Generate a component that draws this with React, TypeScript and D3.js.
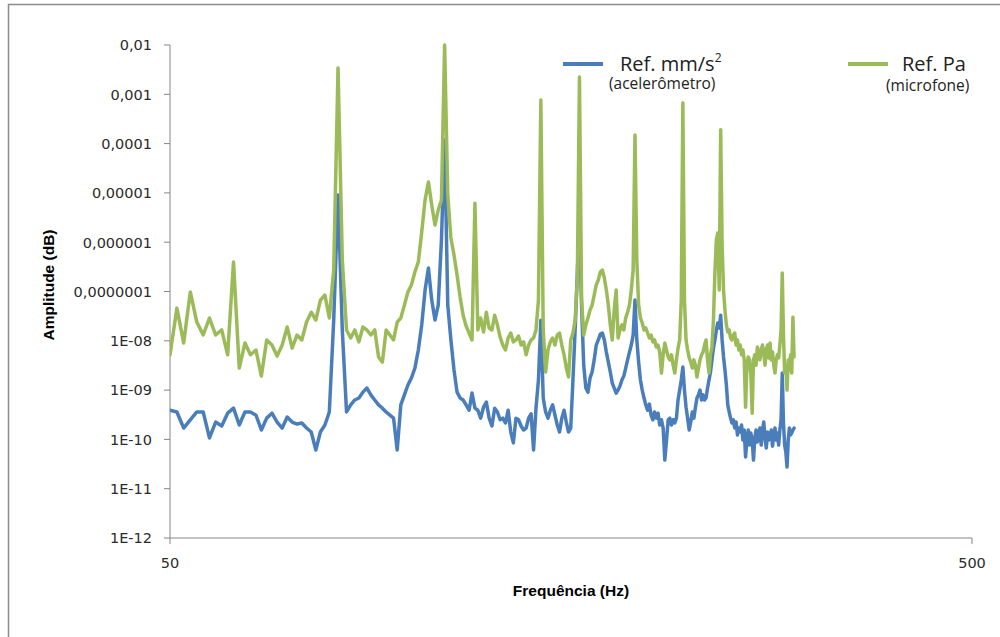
import React from 'react';
import * as d3 from 'd3';

// Frequency grid of the spectra (Hz): first bin and bin width
const FREQ_START = 50;
const FREQ_STEP = 1;

// Ref. mm/s² (acelerômetro), one value per 1 Hz bin from 50 Hz to 300 Hz
const accelValues: number[] = [
  3.9e-10, 3.6e-10, 1.7e-10, 2.5e-10, 3.6e-10, 3.6e-10, 1.07e-10, 2.25e-10, 1.87e-10, 3.4e-10,
  4.3e-10, 1.96e-10, 3.6e-10, 3.6e-10, 3.1e-10, 1.55e-10, 2.7e-10, 3.4e-10, 2.25e-10, 1.7e-10,
  2.85e-10, 2.25e-10, 2.05e-10, 2.15e-10, 1.7e-10, 1.41e-10, 6.1e-11, 1.41e-10, 1.96e-10, 3.6e-10,
  2.6e-8, 9.1e-6, 1.66e-8, 3.6e-10, 5.0e-10, 6.3e-10, 6.9e-10, 9.1e-10, 1.1e-9, 8.0e-10,
  6.3e-10, 5.0e-10, 4.3e-10, 3.6e-10, 3.1e-10, 2.7e-10, 6.1e-11, 5.0e-10, 8.0e-10, 1.27e-9,
  1.76e-9, 2.8e-9, 6.5e-9, 2.1e-8, 1.07e-7, 3.0e-7, 6.7e-8, 2.64e-8, 5.3e-8, 1.11e-6,
  1.18e-4, 5.3e-8, 1.04e-8, 2.56e-9, 9.1e-10, 6.9e-10, 6.3e-10, 5.0e-10, 3.9e-10, 8.7e-10,
  4.3e-10, 3.9e-10, 2.7e-10, 4.5e-10, 5.7e-10, 2.7e-10, 1.87e-10, 4.3e-10, 3.6e-10, 2.5e-10,
  2.7e-10, 2.15e-10, 3.9e-10, 1.41e-10, 8.5e-11, 2.7e-10, 2.5e-10, 1.87e-10, 1.55e-10, 1.7e-10,
  2.7e-10, 3.3e-10, 6.1e-11, 4.3e-10, 1.6e-9, 2.6e-8, 6.9e-10, 3.6e-10, 2.7e-10, 3.9e-10,
  5.0e-10, 3.1e-10, 1.96e-10, 1.41e-10, 2.7e-10, 3.9e-10, 2.25e-10, 1.41e-10, 1.7e-10, 1.6e-9,
  1.66e-8, 2.37e-7, 2.45e-6, 4.85e-8, 3.2e-9, 1.1e-9, 9.1e-10, 1.76e-9, 2.33e-9, 4.1e-9,
  8.2e-9, 1.04e-8, 1.37e-8, 1.44e-8, 1.04e-8, 5.9e-9, 3.7e-9, 2.33e-9, 1.39e-9, 1.1e-9,
  8.7e-10, 1.0e-9, 1.21e-9, 1.6e-9, 1.93e-9, 2.8e-9, 4.1e-9, 5.9e-9, 8.2e-9, 1.31e-8,
  6.7e-8, 1.04e-8, 3.7e-9, 1.6e-9, 1.0e-9, 6.9e-10, 5.0e-10, 3.9e-10, 5.2e-10, 3.1e-10,
  2.5e-10, 3.6e-10, 2.7e-10, 3.4e-10, 1.96e-10, 2.5e-10, 1.7e-10, 3.8e-11, 9.7e-11, 2.5e-10,
  2.7e-10, 1.96e-10, 2.5e-10, 2.15e-10, 2.7e-10, 6.3e-10, 1.0e-9, 1.6e-9, 2.94e-9, 1.0e-9,
  4.5e-10, 2.7e-10, 1.55e-10, 2.25e-10, 3.6e-10, 2.7e-10, 4.5e-10, 6.9e-10, 8.0e-10, 1.0e-9,
  6.3e-10, 8.0e-10, 6.3e-10, 6.9e-10, 1.1e-9, 1.6e-9, 2.33e-9, 4.1e-9, 7.1e-9, 1.04e-8,
  1.66e-8, 2.3e-8, 1.82e-8, 3.3e-8, 1.04e-8, 4.7e-9, 2.56e-9, 1.27e-9, 5.0e-10, 3.6e-10,
  2.7e-10, 2.15e-10, 2.5e-10, 1.7e-10, 2.25e-10, 1.23e-10, 1.7e-10, 1.41e-10, 1.96e-10, 9.7e-11,
  1.55e-10, 4.4e-11, 9.7e-11, 1.55e-10, 7.7e-11, 1.35e-10, 9.7e-11, 3.8e-11, 1.07e-10, 1.55e-10,
  8.9e-11, 1.23e-10, 1.7e-10, 7.7e-11, 1.55e-10, 2.25e-10, 1.07e-10, 6.7e-11, 1.41e-10, 9.7e-11,
  1.07e-10, 1.55e-10, 7.3e-11, 1.23e-10, 1.7e-10, 9.7e-11, 1.35e-10, 7.7e-11, 1.55e-10, 2.5e-10,
  2.22e-9, 2.15e-10, 7.7e-11, 5.5e-11, 2.75e-11, 9.7e-11, 1.7e-10, 1.23e-10, 1.35e-10, 1.55e-10,
  1.7e-10,
];

// Ref. Pa (microfone), one value per 1 Hz bin from 50 Hz to 300 Hz
const micValues: number[] = [
  5.2e-9, 4.6e-8, 9.0e-9, 9.8e-8, 2.4e-8, 1.31e-8, 2.9e-8, 1.31e-8, 1.66e-8, 5.2e-9,
  3.96e-7, 2.8e-9, 9.0e-9, 5.2e-9, 6.5e-9, 1.93e-9, 1.04e-8, 8.2e-9, 4.9e-9, 8.2e-9,
  1.9e-8, 7.1e-9, 1.31e-8, 1.04e-8, 2.4e-8, 3.8e-8, 2.64e-8, 6.7e-8, 8.5e-8, 2.9e-8,
  2.73e-7, 3.4e-3, 4.35e-7, 1.66e-8, 1.14e-8, 1.66e-8, 9.5e-9, 1.9e-8, 1.66e-8, 1.31e-8,
  1.66e-8, 4.7e-9, 3.7e-9, 1.66e-8, 1.31e-8, 1.04e-8, 2.4e-8, 2.9e-8, 5.3e-8, 9.8e-8,
  1.36e-7, 2.49e-7, 3.96e-7, 1.61e-6, 7.2e-6, 1.66e-5, 5.7e-6, 2.23e-6, 4.5e-6, 7.2e-6,
  1.0e-2, 9.1e-6, 1.22e-6, 5.5e-7, 2.16e-7, 7.7e-8, 3.3e-8, 2.0e-8, 1.44e-8, 1.04e-8,
  6.2e-6, 1.66e-8, 2.9e-8, 1.51e-8, 3.8e-8, 1.82e-8, 1.66e-8, 3.3e-8, 2.1e-8, 1.19e-8,
  8.2e-9, 6.5e-9, 1.14e-8, 1.44e-8, 9.5e-9, 1.04e-8, 1.25e-8, 8.2e-9, 9.5e-9, 5.2e-9,
  8.2e-9, 1.04e-8, 1.14e-8, 1.66e-8, 6.7e-8, 7.7e-4, 1.66e-8, 2.33e-9, 6.5e-9, 9.5e-9,
  1.14e-8, 8.2e-9, 1.31e-8, 1.44e-8, 8.2e-9, 5.2e-9, 2.8e-9, 1.85e-9, 1.04e-8, 1.44e-8,
  2.64e-8, 1.71e-7, 2.24e-3, 6.7e-8, 1.31e-8, 2.1e-8, 2.9e-8, 4.2e-8, 5.3e-8, 8.5e-8,
  1.36e-7, 1.71e-7, 2.49e-7, 2.73e-7, 1.88e-7, 1.07e-7, 5.3e-8, 2.1e-8, 1.04e-8, 4.2e-8,
  1.07e-7, 1.14e-8, 1.66e-8, 2.1e-8, 1.66e-8, 2.9e-8, 3.8e-8, 5.3e-8, 1.07e-7, 2.73e-7,
  1.5e-4, 4.35e-7, 5.3e-8, 2.9e-8, 2.3e-8, 1.66e-8, 1.82e-8, 1.44e-8, 1.14e-8, 1.31e-8,
  9.5e-9, 1.04e-8, 7.5e-9, 8.2e-9, 5.9e-9, 2.22e-9, 5.2e-9, 9.0e-9, 6.5e-9, 4.7e-9,
  4.1e-9, 5.2e-9, 3.2e-9, 2.22e-9, 4.1e-9, 7.1e-9, 1.04e-8, 6.7e-8, 6.7e-4, 6.7e-8,
  1.04e-8, 6.5e-9, 4.5e-9, 3.7e-9, 2.8e-9, 4.1e-9, 3.2e-9, 1.85e-9, 2.8e-9, 4.1e-9,
  5.2e-9, 5.9e-9, 8.2e-9, 1.04e-8, 4.1e-9, 2.22e-9, 5.2e-9, 7.5e-9, 2.64e-8, 2.37e-7,
  1.11e-6, 1.54e-6, 1.07e-7, 1.9e-4, 8.8e-7, 1.07e-7, 4.2e-8, 2.1e-8, 1.51e-8, 1.66e-8,
  1.14e-8, 1.04e-8, 1.31e-8, 1.44e-8, 8.2e-9, 1.04e-8, 6.5e-9, 8.2e-9, 5.2e-9, 6.5e-9,
  4.1e-9, 4.5e-10, 3.2e-9, 4.7e-9, 4.1e-9, 2.0e-9, 3.4e-10, 4.1e-9, 5.2e-9, 3.2e-9,
  7.5e-9, 5.9e-9, 4.1e-9, 6.5e-9, 8.2e-9, 5.7e-9, 3.2e-9, 6.5e-9, 8.2e-9, 4.5e-9,
  9.0e-9, 4.1e-9, 5.9e-9, 3.2e-9, 2.22e-9, 4.1e-9, 5.2e-9, 4.5e-9, 8.2e-9, 1.66e-8,
  2.37e-7, 1.31e-8, 2.22e-9, 3.2e-9, 1.0e-9, 4.1e-9, 2.56e-9, 5.2e-9, 2.22e-9, 3.0e-8,
  4.7e-9,
];

const yTickValues = [1e-2, 1e-3, 1e-4, 1e-5, 1e-6, 1e-7, 1e-8, 1e-9, 1e-10, 1e-11, 1e-12];
const yTickLabels = ['0,01', '0,001', '0,0001', '0,00001', '0,000001', '0,0000001', '1E-08', '1E-09', '1E-10', '1E-11', '1E-12'];
const xTickValues = [50, 500];
const xTickLabels = ['50', '500'];

const seriesNames = ['Ref. mm/s', 'Ref. Pa'];
const seriesSubNames = ['(acelerômetro)', '(microfone)'];
const seriesColors = ['#4a7ebb', '#9bbb59'];

const X_DOMAIN: [number, number] = [50, 500];
const Y_DOMAIN: [number, number] = [1e-12, 1e-2];

export default function App() {
  const W = 1000;
  const H = 637;
  const left = 170, right = 972, top = 45, bottom = 538;
  const x = d3.scaleLog().domain(X_DOMAIN).range([left, right]);
  const y = d3.scaleLog().domain(Y_DOMAIN).range([bottom, top]);
  const line = d3
    .line<number>()
    .x((_, i) => x(FREQ_START + i * FREQ_STEP))
    .y((d) => y(d));

  const axisColor = '#868686';
  const textColor = '#2b2b2b';
  const tickFont = '"DejaVu Sans", sans-serif';
  const titleFont = '"Liberation Sans", Arial, sans-serif';
  const legendFont = '"Open Sans", sans-serif';

  return (
    <svg
      width={W}
      height={H}
      viewBox={`0 0 ${W} ${H}`}
      style={{ position: 'absolute', left: 0, top: 0, background: '#fff' }}
    >
      <rect x={0} y={0} width={W} height={H} fill="#fff" />
      <rect x={8.5} y={4.5} width={1100} height={800} fill="none" stroke="#8c8c8c" strokeWidth={1.5} />

      <defs>
        <clipPath id="plotClip">
          <rect x={left} y={top - 2} width={right - left} height={bottom - top + 2} />
        </clipPath>
      </defs>

      {/* axes */}
      <line x1={left} y1={top} x2={left} y2={bottom} stroke={axisColor} strokeWidth={1} />
      <line x1={left} y1={bottom} x2={right} y2={bottom} stroke={axisColor} strokeWidth={1} />
      {yTickValues.map((v, i) => (
        <g key={'yt' + i}>
          <line x1={left - 6} x2={left} y1={y(v)} y2={y(v)} stroke={axisColor} strokeWidth={1} />
          <text
            x={152}
            y={y(v) + 5.3}
            textAnchor="end"
            fontFamily={tickFont}
            fontSize={14.5}
            fill={textColor}
          >
            {yTickLabels[i]}
          </text>
        </g>
      ))}
      {xTickValues.map((v, i) => (
        <g key={'xt' + i}>
          <line x1={x(v)} x2={x(v)} y1={bottom} y2={bottom + 6} stroke={axisColor} strokeWidth={1} />
          <text x={x(v)} y={568} textAnchor="middle" fontFamily={tickFont} fontSize={14.5} fill={textColor}>
            {xTickLabels[i]}
          </text>
        </g>
      ))}

      {/* axis titles */}
      <text
        x={571}
        y={596}
        textAnchor="middle"
        fontFamily={titleFont}
        fontWeight="bold"
        fontSize={15.5}
        fill="#000"
      >
        Frequência (Hz)
      </text>
      <text
        transform={`translate(54, 285) rotate(-90)`}
        textAnchor="middle"
        fontFamily={titleFont}
        fontWeight="bold"
        fontSize={15.5}
        fill="#000"
      >
        Amplitude (dB)
      </text>

      {/* series */}
      <g clipPath="url(#plotClip)" fill="none" strokeWidth={3.5} strokeLinejoin="round" strokeLinecap="round">
        <path d={line(accelValues) || ''} stroke={seriesColors[0]} />
        <path d={line(micValues) || ''} stroke={seriesColors[1]} />
      </g>

      {/* legend */}
      <line x1={563} x2={603} y1={64} y2={64} stroke={seriesColors[0]} strokeWidth={4} />
      <text x={620} y={71} fontFamily={legendFont} fontSize={20} fill="#222">
        {seriesNames[0]}
        <tspan fontSize={12} dy={-9}>2</tspan>
      </text>
      <text x={609} y={89} fontFamily={legendFont} fontSize={15.5} fill="#222">
        {seriesSubNames[0]}
      </text>
      <line x1={848} x2={888} y1={64} y2={64} stroke={seriesColors[1]} strokeWidth={4} />
      <text x={902} y={71} fontFamily={legendFont} fontSize={20} fill="#222">
        {seriesNames[1]}
      </text>
      <text x={886} y={91} fontFamily={legendFont} fontSize={15.5} fill="#222">
        {seriesSubNames[1]}
      </text>
    </svg>
  );
}
